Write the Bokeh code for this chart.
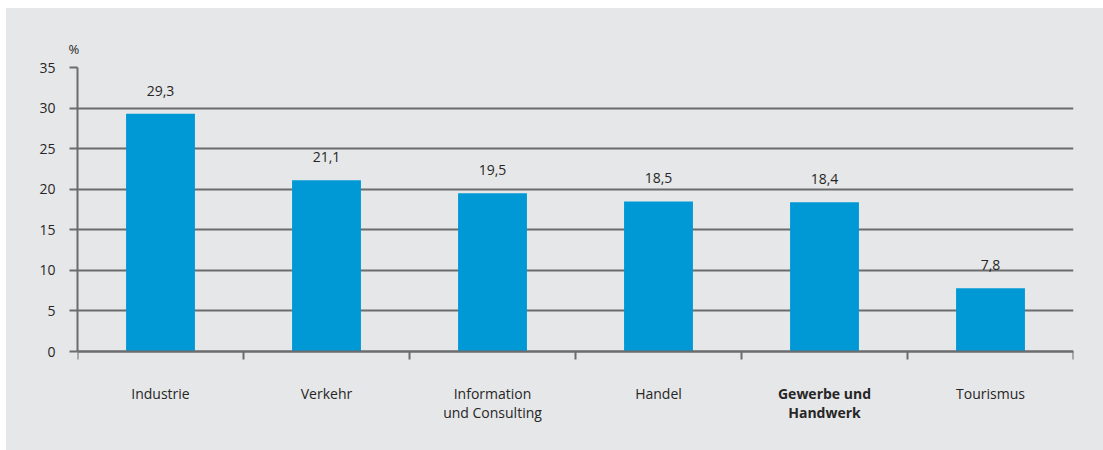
from bokeh.plotting import figure
from bokeh.models import FixedTicker, ColumnDataSource, Range1d, Spacer
from bokeh.layouts import column, row
from bokeh.embed import file_html
from bokeh.resources import INLINE
from bokeh.core.properties import value

categories = ["Industrie", "Verkehr", "Information\nund Consulting", "Handel",
              "Gewerbe und\nHandwerk", "Tourismus"]
values = [29.3, 21.1, 19.5, 18.5, 18.4, 7.8]
cat_styles = ["normal", "normal", "normal", "normal", "bold", "normal"]
y_ticks = [0, 5, 10, 15, 20, 25, 30, 35]
y_unit = "%"

FONT = "Open Sans"
TXT = "#262626"
GRID = "#6b6c6e"
BG = "#e6e7e8"
BAR = "#0099d6"

W, H = 1097, 442
B_LEFT, B_RIGHT, B_TOP, B_BOTTOM = 71, 30, 59, 10
PX_PER_UNIT = 284 / 35.0          # vertical scale of the value axis
frame_h = H - B_TOP - B_BOTTOM
y_top = max(y_ticks)
y_start = y_top - frame_h / PX_PER_UNIT   # room below 0 for the category labels

n = len(categories)
xs = [i + 0.5 for i in range(n)]
val_labels = [f"{v:.1f}".replace(".", ",") for v in values]

src = ColumnDataSource(dict(x=xs, top=values, lab=val_labels, cat=categories,
                            zero=[0] * n, style=cat_styles))

p = figure(width=W, height=H, x_range=Range1d(0, n), y_range=Range1d(y_start, y_top),
           output_backend="svg", toolbar_location=None,
           min_border_left=B_LEFT, min_border_right=B_RIGHT,
           min_border_top=B_TOP, min_border_bottom=B_BOTTOM)
p.background_fill_color = BG
p.border_fill_color = BG
p.outline_line_color = None
p.styles = {"background-color": BG}

p.vbar(x="x", top="top", width=0.415, source=src, color=BAR, line_color=None)

p.xgrid.visible = False
p.ygrid.ticker = FixedTicker(ticks=y_ticks)
p.ygrid.grid_line_color = GRID
p.ygrid.grid_line_width = 2

ya = p.yaxis[0]
ya.ticker = FixedTicker(ticks=y_ticks)
ya.bounds = (0, y_top)
ya.major_tick_out = 8
ya.major_tick_in = 0
ya.minor_tick_line_color = None
ya.major_tick_line_color = GRID
ya.major_tick_line_width = 2
ya.axis_line_color = GRID
ya.axis_line_width = 2
ya.major_label_standoff = 14
ya.major_label_text_font = FONT
ya.major_label_text_font_size = "14px"
ya.major_label_text_color = TXT

xa = p.xaxis[0]
xa.fixed_location = 0
xa.ticker = FixedTicker(ticks=xs, minor_ticks=list(range(n + 1)))
xa.major_tick_out = 0
xa.major_tick_in = 0
xa.minor_tick_out = 8
xa.minor_tick_in = 0
xa.minor_tick_line_color = GRID
xa.minor_tick_line_width = 2
xa.axis_line_color = GRID
xa.axis_line_width = 2
xa.major_label_standoff = 0
xa.major_label_overrides = {x: "" for x in xs}

# value labels above bars
p.text(x="x", y="top", text="lab", source=src, y_offset=-23,
       text_align="center", text_baseline="middle",
       text_font=value(FONT), text_font_size="14px", text_color=TXT)

# category labels below the baseline
p.text(x="x", y="zero", text="cat", source=src, y_offset=32,
       text_align="center", text_baseline="top",
       text_font=value(FONT), text_font_size="14px", text_color=TXT,
       text_font_style="style", text_line_height=1.0)

# unit label above the value axis
p.title.text = y_unit
p.title.align = "left"
p.title.offset = -9
p.title.standoff = 20
p.title.text_font = FONT
p.title.text_font_size = "13px"
p.title.text_font_style = "normal"
p.title.text_color = TXT

layout = column(Spacer(height=8), row(Spacer(width=6), p))
open("out.html", "w").write(file_html(layout, INLINE))
